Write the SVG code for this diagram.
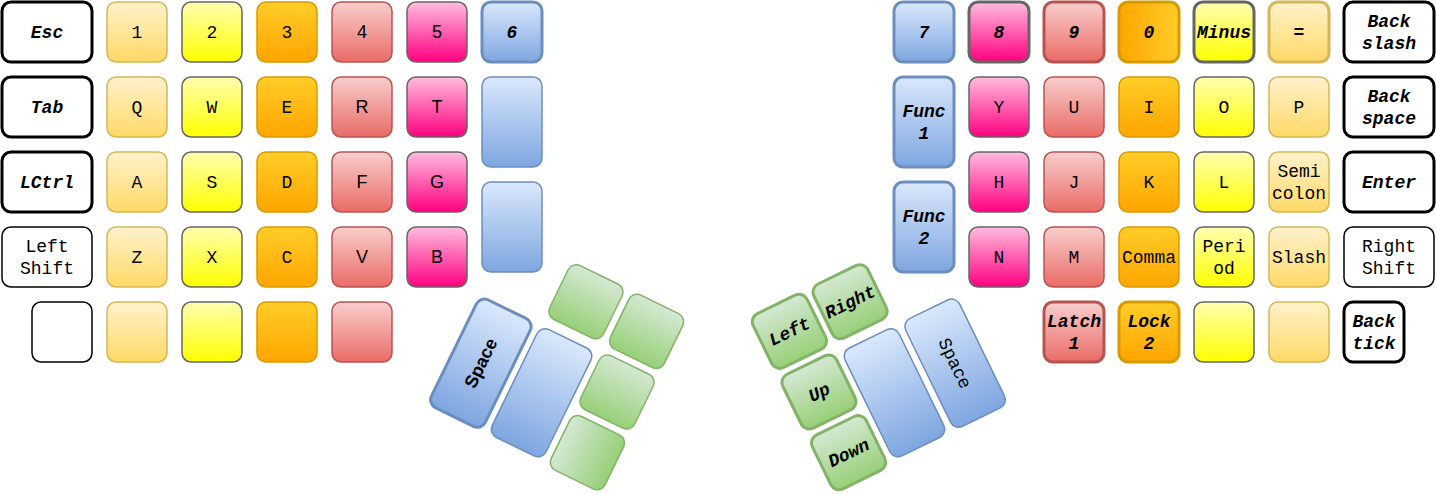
<svg xmlns="http://www.w3.org/2000/svg" width="1436" height="494" viewBox="0 0 1436 494">
<defs>
<linearGradient id="gLO" x1="0" y1="0" x2="0" y2="1"><stop offset="0" stop-color="#fff2cc"/><stop offset="1" stop-color="#ffd966"/></linearGradient>
<linearGradient id="gY" x1="0" y1="0" x2="0" y2="1"><stop offset="0" stop-color="#ffffb0"/><stop offset="1" stop-color="#ffff00"/></linearGradient>
<linearGradient id="gO" x1="0" y1="0" x2="0" y2="1"><stop offset="0" stop-color="#ffcd28"/><stop offset="1" stop-color="#ffa500"/></linearGradient>
<linearGradient id="gOH" x1="0" y1="0" x2="1" y2="0"><stop offset="0" stop-color="#ffa500"/><stop offset="1" stop-color="#ffcd28"/></linearGradient>
<linearGradient id="gR" x1="0" y1="0" x2="0" y2="1"><stop offset="0" stop-color="#f8cecc"/><stop offset="1" stop-color="#ea6b66"/></linearGradient>
<linearGradient id="gP" x1="0" y1="0" x2="0" y2="1"><stop offset="0" stop-color="#ffbcde"/><stop offset="1" stop-color="#ff0080"/></linearGradient>
<linearGradient id="gB" x1="0" y1="0" x2="0" y2="1"><stop offset="0" stop-color="#dae8fc"/><stop offset="1" stop-color="#7ea6e0"/></linearGradient>
<linearGradient id="gG" x1="0" y1="0" x2="0" y2="1"><stop offset="0" stop-color="#d5e8d4"/><stop offset="1" stop-color="#97d077"/></linearGradient>
<linearGradient id="gGH" x1="0" y1="0" x2="1" y2="0"><stop offset="0" stop-color="#d5e8d4"/><stop offset="1" stop-color="#97d077"/></linearGradient>
</defs>
<style>
rect{stroke-width:1.5}
.w{fill:#ffffff;stroke:#000000}
.lo{fill:url(#gLO);stroke:#d6b656}
.y{fill:url(#gY);stroke:#666666}
.o{fill:url(#gO);stroke:#d79b00}
.oh{fill:url(#gOH);stroke:#d79b00}
.r{fill:url(#gR);stroke:#b85450}
.p{fill:url(#gP);stroke:#666666}
.b{fill:url(#gB);stroke:#6c8ebf}
.g{fill:url(#gG);stroke:#82b366}
.gh{fill:url(#gGH);stroke:#82b366}
rect.t{stroke-width:3}
text{font-family:"Liberation Mono","Courier New",monospace;font-size:18px;text-anchor:middle;fill:#000000}
text.s{font-family:"Liberation Sans",Arial,sans-serif}
text.bi{font-weight:bold;font-style:italic}
text.sb{font-family:"Liberation Sans",Arial,sans-serif;font-weight:bold}
</style>
<g id="left-hand">
<g id="k-esc"><rect class="w t" x="2" y="2" width="90" height="60" rx="9"/><text class="bi" x="47" y="38">Esc</text></g>
<g id="k-1"><rect class="lo" x="107" y="2" width="60" height="60" rx="9"/><text x="137" y="38">1</text></g>
<g id="k-2"><rect class="y" x="182" y="2" width="60" height="60" rx="9"/><text x="212" y="38">2</text></g>
<g id="k-3"><rect class="o" x="257" y="2" width="60" height="60" rx="9"/><text x="287" y="38">3</text></g>
<g id="k-4"><rect class="r" x="332" y="2" width="60" height="60" rx="9"/><text class="s" x="362" y="38">4</text></g>
<g id="k-5"><rect class="p" x="407" y="2" width="60" height="60" rx="9"/><text class="s" x="437" y="38">5</text></g>
<g id="k-6"><rect class="b t" x="482" y="2" width="60" height="60" rx="9"/><text class="bi" x="512" y="38">6</text></g>

<g id="k-tab"><rect class="w t" x="2" y="77" width="90" height="60" rx="9"/><text class="bi" x="47" y="113">Tab</text></g>
<g id="k-q"><rect class="lo" x="107" y="77" width="60" height="60" rx="9"/><text x="137" y="113">Q</text></g>
<g id="k-w"><rect class="y" x="182" y="77" width="60" height="60" rx="9"/><text x="212" y="113">W</text></g>
<g id="k-e"><rect class="o" x="257" y="77" width="60" height="60" rx="9"/><text x="287" y="113">E</text></g>
<g id="k-r"><rect class="r" x="332" y="77" width="60" height="60" rx="9"/><text class="s" x="362" y="113">R</text></g>
<g id="k-t"><rect class="p" x="407" y="77" width="60" height="60" rx="9"/><text class="s" x="437" y="113">T</text></g>
<g id="k-l-tall1"><rect class="b" x="482" y="77" width="60" height="90" rx="9"/></g>

<g id="k-lctrl"><rect class="w t" x="2" y="152" width="90" height="60" rx="9"/><text class="bi" x="47" y="188">LCtrl</text></g>
<g id="k-a"><rect class="lo" x="107" y="152" width="60" height="60" rx="9"/><text x="137" y="188">A</text></g>
<g id="k-s"><rect class="y" x="182" y="152" width="60" height="60" rx="9"/><text x="212" y="188">S</text></g>
<g id="k-d"><rect class="o" x="257" y="152" width="60" height="60" rx="9"/><text x="287" y="188">D</text></g>
<g id="k-f"><rect class="r" x="332" y="152" width="60" height="60" rx="9"/><text class="s" x="362" y="188">F</text></g>
<g id="k-g"><rect class="p" x="407" y="152" width="60" height="60" rx="9"/><text class="s" x="437" y="188">G</text></g>
<g id="k-l-tall2"><rect class="b" x="482" y="182" width="60" height="90" rx="9"/></g>

<g id="k-lshift"><rect class="w" x="2" y="227" width="90" height="60" rx="9"/><text x="47" y="252.2">Left</text><text x="47" y="273.8">Shift</text></g>
<g id="k-z"><rect class="lo" x="107" y="227" width="60" height="60" rx="9"/><text x="137" y="263">Z</text></g>
<g id="k-x"><rect class="y" x="182" y="227" width="60" height="60" rx="9"/><text x="212" y="263">X</text></g>
<g id="k-c"><rect class="o" x="257" y="227" width="60" height="60" rx="9"/><text x="287" y="263">C</text></g>
<g id="k-v"><rect class="r" x="332" y="227" width="60" height="60" rx="9"/><text class="s" x="362" y="263">V</text></g>
<g id="k-b"><rect class="p" x="407" y="227" width="60" height="60" rx="9"/><text class="s" x="437" y="263">B</text></g>

<g id="k-l-r5-0"><rect class="w" x="32" y="302" width="60" height="60" rx="9"/></g>
<g id="k-l-r5-1"><rect class="lo" x="107" y="302" width="60" height="60" rx="9"/></g>
<g id="k-l-r5-2"><rect class="y" x="182" y="302" width="60" height="60" rx="9"/></g>
<g id="k-l-r5-3"><rect class="o" x="257" y="302" width="60" height="60" rx="9"/></g>
<g id="k-l-r5-4"><rect class="r" x="332" y="302" width="60" height="60" rx="9"/></g>
</g>

<g id="left-thumb" transform="translate(617,392) rotate(26)">
<g id="k-l-space"><rect class="b t" x="-165" y="-26.25" width="60" height="120" rx="9"/><text class="sb" transform="translate(-135,33.75) rotate(-90)" x="0" y="6">Space</text></g>
<g id="k-l-thumb2"><rect class="b" x="-97.5" y="-26.25" width="60" height="120" rx="9"/></g>
<g id="k-l-g1"><rect class="g" x="-97.5" y="-97.5" width="60" height="60" rx="9"/></g>
<g id="k-l-g2"><rect class="g" x="-30" y="-97.5" width="60" height="60" rx="9"/></g>
<g id="k-l-g3"><rect class="g" x="-30" y="-30" width="60" height="60" rx="9"/></g>
<g id="k-l-g4"><rect class="gh" x="-30" y="37.5" width="60" height="60" rx="9"/></g>
</g>

<g id="right-thumb" transform="translate(819,392) rotate(-26)">
<g id="k-left"><rect class="g t" x="-30" y="-97.5" width="60" height="60" rx="9"/><text class="bi" x="0" y="-61.5">Left</text></g>
<g id="k-right"><rect class="g t" x="37.5" y="-97.5" width="60" height="60" rx="9"/><text class="bi" x="67.5" y="-61.5">Right</text></g>
<g id="k-up"><rect class="g t" x="-30" y="-30" width="60" height="60" rx="9"/><text class="bi" x="0" y="6">Up</text></g>
<g id="k-down"><rect class="g t" x="-30" y="37.5" width="60" height="60" rx="9"/><text class="bi" x="0" y="73.5">Down</text></g>
<g id="k-r-thumb2"><rect class="b" x="37.5" y="-26.25" width="60" height="120" rx="9"/></g>
<g id="k-r-space"><rect class="b" x="105" y="-26.25" width="60" height="120" rx="9"/><text transform="translate(135,33.75) rotate(90)" x="0" y="6">Space</text></g>
</g>

<g id="right-hand">
<g id="k-7"><rect class="b t" x="894" y="2" width="60" height="60" rx="9"/><text class="bi" x="924" y="38">7</text></g>
<g id="k-8"><rect class="p t" x="969" y="2" width="60" height="60" rx="9"/><text class="bi" x="999" y="38">8</text></g>
<g id="k-9"><rect class="r t" x="1044" y="2" width="60" height="60" rx="9"/><text class="bi" x="1074" y="38">9</text></g>
<g id="k-0"><rect class="oh t" x="1119" y="2" width="60" height="60" rx="9"/><text class="bi" x="1149" y="38">0</text></g>
<g id="k-minus"><rect class="y t" x="1194" y="2" width="60" height="60" rx="9"/><text class="bi" x="1224" y="38">Minus</text></g>
<g id="k-equal"><rect class="lo t" x="1269" y="2" width="60" height="60" rx="9"/><text class="bi" x="1299" y="38">=</text></g>
<g id="k-backslash"><rect class="w t" x="1344" y="2" width="90" height="60" rx="9"/><text class="bi" x="1389" y="27.2">Back</text><text class="bi" x="1389" y="48.8">slash</text></g>

<g id="k-func1"><rect class="b t" x="894" y="77" width="60" height="90" rx="9"/><text class="bi" x="924" y="117.2">Func</text><text class="bi" x="924" y="138.8">1</text></g>
<g id="k-y"><rect class="p" x="969" y="77" width="60" height="60" rx="9"/><text x="999" y="113">Y</text></g>
<g id="k-u"><rect class="r" x="1044" y="77" width="60" height="60" rx="9"/><text x="1074" y="113">U</text></g>
<g id="k-i"><rect class="o" x="1119" y="77" width="60" height="60" rx="9"/><text x="1149" y="113">I</text></g>
<g id="k-o"><rect class="y" x="1194" y="77" width="60" height="60" rx="9"/><text x="1224" y="113">O</text></g>
<g id="k-p"><rect class="lo" x="1269" y="77" width="60" height="60" rx="9"/><text x="1299" y="113">P</text></g>
<g id="k-backspace"><rect class="w t" x="1344" y="77" width="90" height="60" rx="9"/><text class="bi" x="1389" y="102.2">Back</text><text class="bi" x="1389" y="123.8">space</text></g>

<g id="k-func2"><rect class="b t" x="894" y="182" width="60" height="90" rx="9"/><text class="bi" x="924" y="222.2">Func</text><text class="bi" x="924" y="243.8">2</text></g>
<g id="k-h"><rect class="p" x="969" y="152" width="60" height="60" rx="9"/><text x="999" y="188">H</text></g>
<g id="k-j"><rect class="r" x="1044" y="152" width="60" height="60" rx="9"/><text x="1074" y="188">J</text></g>
<g id="k-k"><rect class="o" x="1119" y="152" width="60" height="60" rx="9"/><text x="1149" y="188">K</text></g>
<g id="k-l"><rect class="y" x="1194" y="152" width="60" height="60" rx="9"/><text x="1224" y="188">L</text></g>
<g id="k-semicolon"><rect class="lo" x="1269" y="152" width="60" height="60" rx="9"/><text x="1299" y="177.2">Semi</text><text x="1299" y="198.8">colon</text></g>
<g id="k-enter"><rect class="w t" x="1344" y="152" width="90" height="60" rx="9"/><text class="bi" x="1389" y="188">Enter</text></g>

<g id="k-n"><rect class="p" x="969" y="227" width="60" height="60" rx="9"/><text x="999" y="263">N</text></g>
<g id="k-m"><rect class="r" x="1044" y="227" width="60" height="60" rx="9"/><text x="1074" y="263">M</text></g>
<g id="k-comma"><rect class="o" x="1119" y="227" width="60" height="60" rx="9"/><text x="1149" y="263">Comma</text></g>
<g id="k-period"><rect class="y" x="1194" y="227" width="60" height="60" rx="9"/><text x="1224" y="252.2">Peri</text><text x="1224" y="273.8">od</text></g>
<g id="k-slash"><rect class="lo" x="1269" y="227" width="60" height="60" rx="9"/><text x="1299" y="263">Slash</text></g>
<g id="k-rshift"><rect class="w" x="1344" y="227" width="90" height="60" rx="9"/><text x="1389" y="252.2">Right</text><text x="1389" y="273.8">Shift</text></g>

<g id="k-latch1"><rect class="r t" x="1044" y="302" width="60" height="60" rx="9"/><text class="bi" x="1074" y="327.2">Latch</text><text class="bi" x="1074" y="348.8">1</text></g>
<g id="k-lock2"><rect class="o t" x="1119" y="302" width="60" height="60" rx="9"/><text class="bi" x="1149" y="327.2">Lock</text><text class="bi" x="1149" y="348.8">2</text></g>
<g id="k-r-r5-y"><rect class="y" x="1194" y="302" width="60" height="60" rx="9"/></g>
<g id="k-r-r5-lo"><rect class="lo" x="1269" y="302" width="60" height="60" rx="9"/></g>
<g id="k-backtick"><rect class="w t" x="1344" y="302" width="60" height="60" rx="9"/><text class="bi" x="1374" y="327.2">Back</text><text class="bi" x="1374" y="348.8">tick</text></g>
</g>
<g id="connectors"></g>
</svg>
